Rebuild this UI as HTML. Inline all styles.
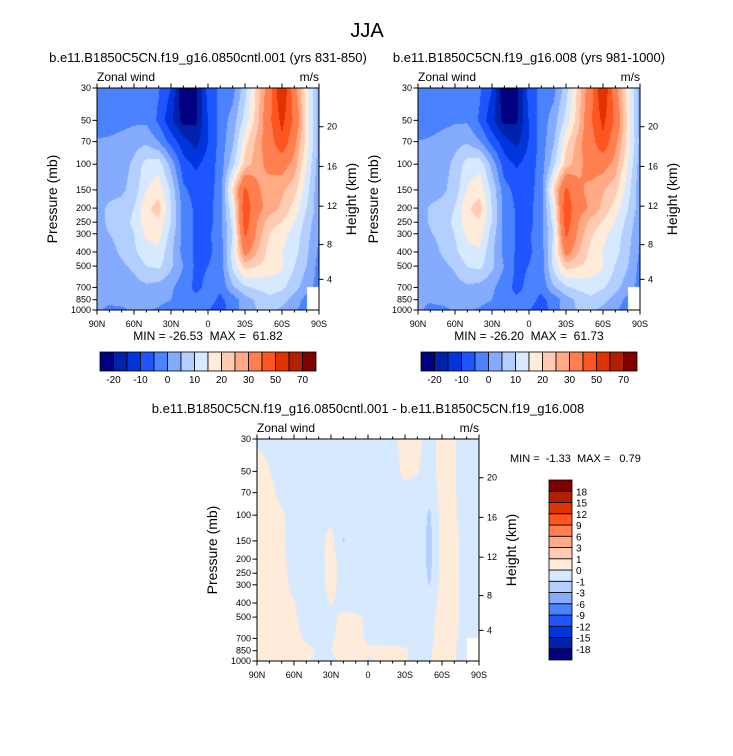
<!DOCTYPE html>
<html><head><meta charset="utf-8">
<style>
html,body{margin:0;padding:0;background:#fff;}
#wrap{position:relative;width:733px;height:756px;overflow:hidden;font-family:"Liberation Sans",sans-serif;}
canvas{position:absolute;left:0;top:0;}
svg{position:absolute;left:0;top:0;}
text{font-family:"Liberation Sans",sans-serif;fill:#000;white-space:pre;}
</style></head>
<body>
<div id="wrap">
<canvas id="cv" width="733" height="756"></canvas>
<svg id="sv" width="733" height="756"></svg>
</div>
<script>
// ---- data ----
const lats = [90,80,70,60,50,40,30,20,10,0,-10,-20,-30,-40,-50,-60,-70,-80,-90];
const levels = [30,50,70,100,150,200,250,300,400,500,700,850,1000];
const pressureTicks = [30,50,70,100,150,200,250,300,400,500,700,850,1000];
const heightTicksKm = [4,8,12,16,20];
const heightTickPressures = [616,356,194,103.5,55.3];
const latTickLabels = ["90N","60N","30N","0","30S","60S","90S"];
const latTickValues = [90,60,30,0,-30,-60,-90];
// zonal wind, case 1 (rows = levels, cols = lats)
const windCase1 = [
 [-3,-3,-3,-3,-3,-4.5,-10,-26,-22,-8,-4,-2,8,22,35,61,33,17,3],
 [-3,-3,-2,-1,-1,-6,-14,-22,-21,-10,-3,2,12,23,38,53,38,18,2],
 [0.5,1,2,3,4,0,-7,-13,-17,-10,-3,4,18,27,35,48,32,18,3],
 [1,2,3,6,12,13,3,-8,-11,-8,-3,8,22,28,32,33,28,15,2],
 [2,3,4,7,15,18,9,-4,-7,-7,-3,20,42,31,27,26,22,12,1],
 [3,6,7,10,19,22,10,-2,-6,-7,-2,14,47,32,28,24,18,10,2],
 [3,6,8,11,18,19,10,-2,-6,-7,-2,12,45,30,22,20,15,8,1],
 [3,5,7,10,16,17,8,-2,-6,-6,-2,10,42,28,20,17,13,7,0],
 [2,3,6,9,13,14,6,-2,-6,-6,-3,12,33,25,18,15,12,6,-1],
 [1,2,4,6,10,11,6,0,-6,-5,-3,11,22,20,18,16,10,5,-2],
 [1,2,2,3,4,3,1,-3,-6,-4,-4,4,9,11,12,11,7,2,-2],
 [1,1,2,2,3,2,0,-3,-4,-3,-6,-3,3,6,9,7,3,-2,null],
 [1,-1,-1,1,1,-1,-3,-3,-2,-5,-7,-3,3,5,6,4,1,-3,null]
];
// difference case1 - case2
const windDiff = [
 [-0.1,-0.2,-0.2,-0.3,-0.3,-0.3,-0.3,-0.3,-0.3,-0.3,-0.3,-0.2,0.3,0.2,-0.3,0.3,0.1,-0.5,-0.3],
 [0.3,0.02,-0.3,-0.3,-0.3,-0.3,-0.3,-0.3,-0.3,-0.3,-0.3,-0.3,0.2,0.05,-0.3,0.3,0.1,-0.5,-0.3],
 [0.4,0.2,-0.2,-0.3,-0.3,-0.3,-0.3,-0.3,-0.3,-0.3,-0.3,-0.3,-0.3,-0.3,-0.5,0.3,0.1,-0.5,-0.3],
 [0.4,0.3,0.1,-0.3,-0.3,-0.3,-0.2,-0.3,-0.3,-0.3,-0.3,-0.3,-0.3,-0.3,-1.2,0.4,0.1,-0.4,-0.3],
 [0.5,0.4,0.1,-0.3,-0.3,-0.3,0.3,-1.1,-0.3,-0.3,-0.3,-0.3,-0.3,-0.3,-1.3,0.4,0.2,-0.3,-0.3],
 [0.5,0.4,0.15,-0.3,-0.3,-0.3,0.3,-0.3,-0.3,-0.3,-0.3,-0.3,-0.3,-0.3,-1.3,0.4,0.2,-0.3,-0.3],
 [0.5,0.4,0.2,-0.2,-0.3,-0.3,0.3,-0.3,-0.3,-0.3,-0.3,-0.3,-0.3,-0.3,-1.2,0.4,0.2,-0.3,-0.3],
 [0.5,0.4,0.25,-0.2,-0.3,-0.3,0.25,-0.3,-0.3,-0.3,-0.3,-0.3,-0.3,-0.3,-1.05,0.4,0.2,-0.3,-0.3],
 [0.5,0.4,0.3,0.02,-0.3,-0.3,0.05,-0.3,-0.3,-0.3,-0.3,-0.3,-0.3,-0.3,-0.5,0.4,0.2,-0.3,-0.3],
 [0.5,0.4,0.3,0.1,-0.3,-0.3,-0.2,0.2,0.1,-0.1,-0.3,-0.3,-0.3,-0.3,-0.3,0.4,0.2,-0.3,-0.3],
 [0.5,0.4,0.3,0.2,-0.1,-0.3,-0.1,0.3,0.2,-0.1,-0.2,-0.3,-0.3,-0.3,-0.2,0.4,0.1,-0.3,-0.3],
 [0.4,0.4,0.3,0.3,0.2,-0.1,0.0,0.3,0.2,0.1,0.2,0.2,0.1,-0.3,-0.1,0.4,0.05,-0.3,null],
 [-0.1,0.3,0.3,0.3,0.2,-0.2,-0.2,0.2,0.3,-0.1,0.2,0.2,0.1,-0.3,-0.1,0.4,0.05,-0.3,null]
];
const windLevels = [-20,-15,-10,-5,0,5,10,15,20,25,30,40,50,60,70];
const windLabels = ["-20","-10","0","10","20","30","50","70"];
const diffLevels = [-18,-15,-12,-9,-6,-3,-1,0,1,3,6,9,12,15,18];
const diffLabels = ["-18","-15","-12","-9","-6","-3","-1","0","1","3","6","9","12","15","18"];
const palette = ["#000080","#0022aa","#0035dd","#1f55ff","#4a82ff","#85abff","#b3cfff","#d7e9ff","#ffebd9","#ffcbb3","#ffaa85","#ff7f50","#ff5520","#e03300","#b32000","#800000"];
// case 2 derived from case 1 and the difference
const windCase2 = windCase1.map((r,i)=>r.map((v,j)=> v===null?null: v - windDiff[i][j]));

// ---- drawing ----
const cv=document.getElementById('cv'), ctx=cv.getContext('2d');
const sv=document.getElementById('sv'), NS="http://www.w3.org/2000/svg";
const L30=Math.log(30), L1000=Math.log(1000);
function mk(tag,attrs,parent){const e=document.createElementNS(NS,tag);for(const k in attrs)e.setAttribute(k,attrs[k]);(parent||sv).appendChild(e);return e;}
function txt(x,y,s,size,anchor,name,extra){const t=mk('text',Object.assign({x:x,y:y,'font-size':size,'text-anchor':anchor||'start'},extra||{}));t.textContent=s;return t;}
function hexRgb(h){return [parseInt(h.substr(1,2),16),parseInt(h.substr(3,2),16),parseInt(h.substr(5,2),16)];}
const palRgb=palette.map(hexRgb);
function colorIdx(v,lv){let i=0;while(i<lv.length&&v>=lv[i])i++;return i;}

function panel(P){
  const {x0,y0,w,h,field,lv}=P;
  const xs=v=>x0+(90-v)/180*w;
  const ys=p=>y0+(Math.log(p)-L30)/(L1000-L30)*h;
  const img=ctx.createImageData(w,h);
  const lvLog=levels.map(Math.log);
  for(let py=0;py<h;py++){
    const lp=L30+(py+0.5)/h*(L1000-L30);
    let r=0;while(r<levels.length-2&&lp>lvLog[r+1])r++;
    const fy=Math.min(1,Math.max(0,(lp-lvLog[r])/(lvLog[r+1]-lvLog[r])));
    for(let px=0;px<w;px++){
      const lat=90-(px+0.5)/w*180;
      let c=0;while(c<lats.length-2&&lat<lats[c+1])c++;
      const fx=(lats[c]-lat)/(lats[c]-lats[c+1]);
      const a=field[r][c],b=field[r][c+1],d=field[r+1][c],e=field[r+1][c+1];
      const k=(py*w+px)*4;
      if(a===null||b===null||d===null||e===null){img.data[k]=255;img.data[k+1]=255;img.data[k+2]=255;img.data[k+3]=255;continue;}
      const v=(a*(1-fx)+b*fx)*(1-fy)+(d*(1-fx)+e*fx)*fy;
      const col=palRgb[colorIdx(v,lv)];
      img.data[k]=col[0];img.data[k+1]=col[1];img.data[k+2]=col[2];img.data[k+3]=255;
    }
  }
  ctx.putImageData(img,x0,y0);
  const g=mk('g',{});
  
  
  const frame=mk('rect',{x:x0,y:y0,width:w,height:h,fill:'none',stroke:'#000','stroke-width':1},g);
  
  
  for(let lat=90;lat>=-90;lat-=10){
    const X=xs(lat),major=(lat%30===0);const L=major?4.5:2.5;
    mk('line',{x1:X,y1:y0+h,x2:X,y2:y0+h+L,stroke:'#000','stroke-width':1},g);
    mk('line',{x1:X,y1:y0,x2:X,y2:y0-L,stroke:'#000','stroke-width':1},g);
  }
  latTickValues.forEach((v,i)=>txt(xs(v),y0+h+17,latTickLabels[i],9,'middle','x-tick-label'));
  pressureTicks.forEach(p=>{const Y=ys(p);mk('line',{x1:x0-4.5,y1:Y,x2:x0,y2:Y,stroke:'#000'},g);txt(x0-6,Y+3,String(p),9,'end','y-tick-label');});
  heightTicksKm.forEach((z,i)=>{const Y=ys(heightTickPressures[i]);mk('line',{x1:x0+w,y1:Y,x2:x0+w+4.5,y2:Y,stroke:'#000'},g);txt(x0+w+8,Y+3,String(z),9,'start','height-tick-label');});
  txt(x0,y0-7,'Zonal wind',12,'start','left-string');
  txt(x0+w,y0-7,'m/s',12,'end','units-string');
  const cy=y0+h/2;
  txt(x0-40,cy,'Pressure (mb)',14,'middle','y-axis-title',{transform:`rotate(-90 ${x0-40} ${cy})`});
  txt(x0+w+37,cy,'Height (km)',14,'middle','right-axis-title',{transform:`rotate(-90 ${x0+w+37} ${cy})`});
  txt(x0+w/2,y0-26,P.title,13,'middle','panel-title');
}
function hbar(x0,y0,w,h,lv,labels,name){
  const n=lv.length+1,bw=w/n;
  for(let i=0;i<n;i++){const r=mk('rect',{x:x0+i*bw,y:y0,width:bw,height:h,fill:palette[i],stroke:'#000','stroke-width':0.8});}
  for(let j=0;j<labels.length;j++){txt(x0+(1+2*j)*bw,y0+h+12,labels[j],10,'middle',name+'-label');}
}
function vbar(x0,y0,w,h,lv,labels,name){
  const n=lv.length+1,bh=h/n;
  for(let i=0;i<n;i++){const r=mk('rect',{x:x0,y:y0+h-(i+1)*bh,width:w,height:bh,fill:palette[i],stroke:'#000','stroke-width':0.8});}
  for(let j=0;j<labels.length;j++){txt(x0+w+4,y0+h-(j+1)*bh+4,labels[j],10,'start',name+'-label');}
}
txt(367,37,'JJA',20,'middle','figure-title');
panel({x0:97,y0:88,w:222,h:222,field:windCase1,lv:windLevels,name:'panel-case1',title:'b.e11.B1850C5CN.f19_g16.0850cntl.001 (yrs 831-850)'});
panel({x0:418,y0:88,w:222,h:222,field:windCase2,lv:windLevels,name:'panel-case2',title:'b.e11.B1850C5CN.f19_g16.008 (yrs 981-1000)'});
panel({x0:257,y0:439,w:222,h:222,field:windDiff,lv:diffLevels,name:'panel-difference',title:'b.e11.B1850C5CN.f19_g16.0850cntl.001 - b.e11.B1850C5CN.f19_g16.008'});
txt(208,340,'MIN = -26.53  MAX =  61.82',12,'middle','min-max-case1');
txt(529,340,'MIN = -26.20  MAX =  61.73',12,'middle','min-max-case2');
txt(510,462,'MIN =  -1.33  MAX =   0.79',11,'start','min-max-diff');
hbar(100,352,216,19,windLevels,windLabels,'colorbar-case1');
hbar(421,352,216,19,windLevels,windLabels,'colorbar-case2');
vbar(549,480,23,180,diffLevels,diffLabels,'colorbar-diff');
</script>
</body></html>
